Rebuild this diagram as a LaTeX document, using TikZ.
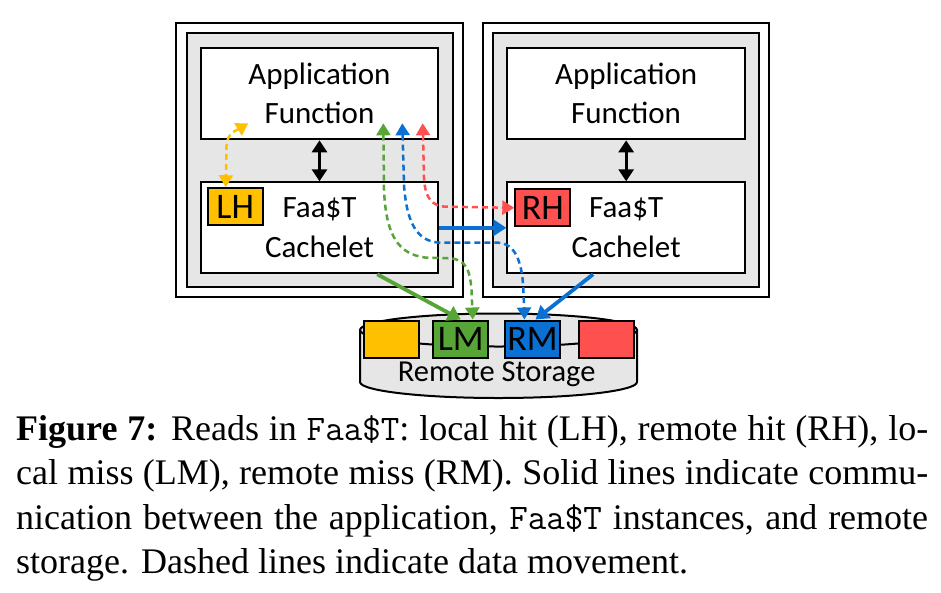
\documentclass[tikz,border=0pt]{standalone}
\usepackage{fontspec}
\usetikzlibrary{arrows.meta,calc}
\newfontfamily\diagfont{Carlito}
\newfontfamily\capserif{Liberation Serif}
\definecolor{cyel}{HTML}{FFC000}
\definecolor{cred}{HTML}{FF5050}
\definecolor{cgrn}{HTML}{56A536}
\definecolor{cblu}{HTML}{0A70D2}
\definecolor{cgray}{HTML}{E6E6E6}
\begin{document}
\begin{tikzpicture}[x=1pt,y=-1pt,
  box/.style={draw=black,line width=2pt,inner sep=0pt,rectangle},
  outerbox/.style={box,fill=white,minimum width=286.7pt,minimum height=274.6pt},
  innerbox/.style={box,fill=cgray,minimum width=266pt,minimum height=254pt},
  appbox/.style={box,fill=white,minimum width=237.6pt,minimum height=91.6pt,
     font=\diagfont\fontsize{31}{39.5}\selectfont,align=center},
  cachebox/.style={appbox,minimum height=91pt},
  tagbox/.style={draw=black,line width=2pt,inner sep=0pt,minimum width=55pt,
     minimum height=37pt,font=\diagfont\fontsize{36}{36}\selectfont},
  kbidir/.style={line width=3.3pt,arrows={Triangle[length=12pt,width=15pt]-Triangle[length=12pt,width=15pt]}},
  comm/.style={line width=3.8pt,arrows={-Triangle[length=13pt,width=16pt]}},
  dat/.style={line width=2.5pt,dash pattern=on 6pt off 4pt,
     arrows={Triangle[length=12pt,width=14pt]-Triangle[length=12pt,width=14pt]}},
  captext/.style={inner sep=0pt,anchor=base west,font=\capserif\fontsize{36}{44.2}\selectfont}
]
\useasboundingbox (0,0) rectangle (941,592);

% left instance
\node[outerbox] (Lout) at (319.35,160) {};
\node[innerbox] (Lin) at (319.7,160.3) {};
\node[appbox] (Lapp) at (319.5,93.5) {Application\\Function};
\node[cachebox] (Lcache) at (319.5,227.8) {Faa\$T\\Cachelet};
\node[tagbox,fill=cyel] (LH) at (235.2,206.7) {LH};

% right instance
\node[outerbox] (Rout) at (626,160) {};
\node[innerbox] (Rin) at (626.3,160.3) {};
\node[appbox] (Rapp) at (626.15,93.5) {Application\\Function};
\node[cachebox] (Rcache) at (626.15,227.8) {Faa\$T\\Cachelet};
\node[tagbox,fill=cred] (RH) at (542.8,207.8) {RH};

% remote storage cylinder
\fill[cgray] (360,330) -- (360,382)
  arc[start angle=180,end angle=360,x radius=138.5pt,y radius=16pt]
  -- (637,330)
  arc[start angle=0,end angle=180,x radius=138.5pt,y radius=16.5pt] -- cycle;
\draw[line width=2pt] (360,330) -- (360,382)
  arc[start angle=180,end angle=360,x radius=138.5pt,y radius=16pt]
  -- (637,330)
  arc[start angle=0,end angle=180,x radius=138.5pt,y radius=16.5pt] -- cycle;
\draw[line width=2pt] (360,330)
  arc[start angle=180,end angle=360,x radius=138.5pt,y radius=16.5pt];
\node[tagbox,fill=cyel] (SY) at (391.5,339) {};
\node[tagbox,fill=cgrn] (LM) at (460.8,339) {LM};
\node[tagbox,fill=cblu] (RM) at (532.5,339) {RM};
\node[tagbox,fill=cred] (SR) at (606.7,339.3) {};
\node[font=\diagfont\fontsize{30.5}{30.5}\selectfont,inner sep=0pt,anchor=base] (RS) at (496.7,381.5) {Remote Storage};

% solid communication arrows
\draw[kbidir] (Lapp.south) -- (Lcache.north);
\draw[kbidir] (Rapp.south) -- (Rcache.north);
\draw[comm,cblu] (Lcache.east) -- (Rcache.west);
\draw[comm,cgrn] ($(Lcache.south west)!0.741!(Lcache.south east)$) -- (LM.north);
\draw[comm,cblu] ($(Rcache.south west)!0.362!(Rcache.south east)$) -- ([xshift=3pt]RM.north);

% dashed data movement
\coordinate (ytop) at (248.3,123.3);
\coordinate (gtop) at (383.3,123.3);
\coordinate (btop) at (402.3,123.3);
\coordinate (rtop) at (422.7,123.3);
\draw[dat,cyel] (ytop) .. controls (238,129.5) and (226.5,133) .. (226.5,146)
  -- ([xshift=-9.5pt]LH.north);
\draw[dat,cgrn] (gtop) -- (384,190) .. controls (386,235) and (398,254) .. (425,257.5)
  -- (450,258.3) .. controls (466,259.5) and (470,270) .. (471.5,290)
  -- ([xshift=12pt]LM.north);
\draw[dat,cblu] (btop) -- (404,185) .. controls (407,228) and (420,242.7) .. (442,242.7)
  -- (498,242.7) .. controls (515,243) and (522,262) .. (523.3,288)
  -- ([xshift=-8pt]RM.north);
\draw[dat,cred] (rtop) -- (424,178) .. controls (425,198) and (432,206.7) .. (447,206.7)
  -- (RH.west);

% caption
\node[captext] (caption) at (16,440.7) {\parbox[t]{912pt}{\hyphenpenalty=10000\tolerance=10000\parindent=0pt
\textbf{Figure 7:} Reads in {\ttfamily Faa\$T}: local hit (LH), remote hit (RH), lo-\linebreak
cal miss (LM), remote miss (RM). Solid lines indicate commu-\linebreak
nication between the application, {\ttfamily Faa\$T} instances, and remote\linebreak
storage. Dashed lines indicate data movement.}};
\end{tikzpicture}
\end{document}
